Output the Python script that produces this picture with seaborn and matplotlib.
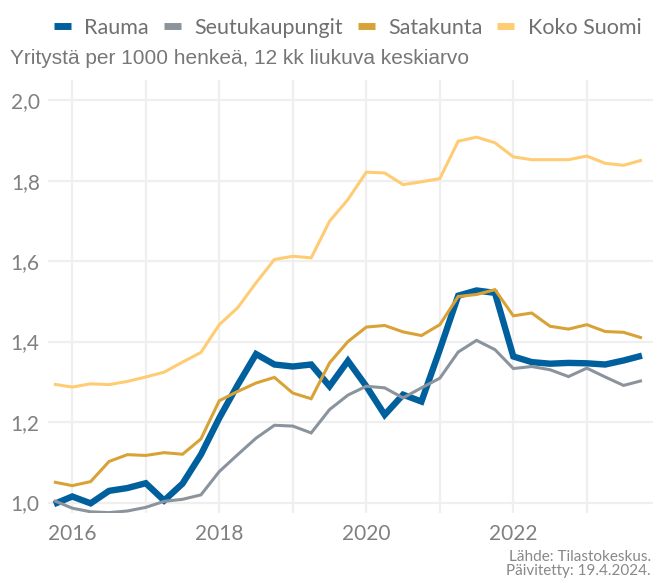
import numpy as np
import pandas as pd
import matplotlib
matplotlib.use("Agg")
import matplotlib.pyplot as plt
import seaborn as sns
from matplotlib.lines import Line2D

# ---- data (quarterly, 12-month moving average) ----
quarters = [2015.75 + 0.25 * i for i in range(33)]
rauma = [0.996, 1.015, 0.998, 1.029, 1.036, 1.048, 1.005, 1.047, 1.119, 1.210,
         1.292, 1.369, 1.343, 1.338, 1.343, 1.289, 1.352, 1.289, 1.218, 1.268,
         1.251, 1.380, 1.514, 1.527, 1.521, 1.363, 1.349, 1.345, 1.347, 1.346,
         1.343, 1.353, 1.365]
seutukaupungit = [1.005, 0.986, 0.977, 0.975, 0.979, 0.988, 1.003, 1.008, 1.019, 1.077,
                  1.119, 1.160, 1.192, 1.190, 1.173, 1.231, 1.267, 1.289, 1.285, 1.260,
                  1.285, 1.309, 1.374, 1.403, 1.380, 1.333, 1.338, 1.330, 1.313, 1.334,
                  1.312, 1.291, 1.303]
satakunta = [1.051, 1.042, 1.052, 1.102, 1.119, 1.117, 1.124, 1.120, 1.158, 1.253,
             1.276, 1.297, 1.311, 1.272, 1.258, 1.347, 1.400, 1.436, 1.440, 1.424,
             1.415, 1.442, 1.512, 1.517, 1.529, 1.464, 1.471, 1.438, 1.431, 1.442,
             1.425, 1.423, 1.409]
koko_suomi = [1.294, 1.287, 1.295, 1.293, 1.301, 1.312, 1.324, 1.349, 1.373, 1.442,
              1.484, 1.546, 1.604, 1.612, 1.608, 1.699, 1.753, 1.821, 1.819, 1.790,
              1.797, 1.805, 1.898, 1.908, 1.894, 1.859, 1.852, 1.852, 1.852, 1.861,
              1.843, 1.838, 1.851]

series_names = ["Rauma", "Seutukaupungit", "Satakunta", "Koko Suomi"]
series_values = [rauma, seutukaupungit, satakunta, koko_suomi]
y_ticks = [1.0, 1.2, 1.4, 1.6, 1.8, 2.0]
y_tick_labels = ["1,0", "1,2", "1,4", "1,6", "1,8", "2,0"]
x_years = list(range(2016, 2024))
x_tick_labels = ["2016", "", "2018", "", "2020", "", "2022", ""]
title = "Yritystä per 1000 henkeä, 12 kk liukuva keskiarvo"
source = "Lähde: Tilastokeskus.\nPäivitetty: 19.4.2024."

colors = {"Rauma": "#00609e", "Seutukaupungit": "#8b949c",
          "Satakunta": "#d9a236", "Koko Suomi": "#ffcc73"}
widths = {"Rauma": 4.6, "Seutukaupungit": 2.2, "Satakunta": 2.2, "Koko Suomi": 2.2}

df = pd.DataFrame({
    "t": quarters * len(series_names),
    "value": [v for vals in series_values for v in vals],
    "series": [n for n, vals in zip(series_names, series_values) for _ in vals],
})

sns.set_theme(style="white")
plt.rcParams["font.family"] = ["Lato", "DejaVu Sans"]

fig = plt.figure(figsize=(6.53, 5.81), dpi=100)
ax = fig.add_axes([48 / 653, 1 - 513 / 581, 605 / 653, (513 - 80) / 581])

sns.lineplot(data=df, x="t", y="value", hue="series", size="series",
             hue_order=series_names, size_order=series_names,
             palette=colors, sizes=widths, legend=False, ax=ax)
for ln in ax.get_lines():
    ln.set_solid_joinstyle("miter")
    ln.set_solid_capstyle("butt")

ax.set_xlim(2015.67, 2023.90)
ax.set_ylim(0.974, 2.05)
ax.set_xticks(x_years)
ax.set_xticklabels(x_tick_labels)
ax.set_yticks(y_ticks)
ax.set_yticklabels(y_tick_labels)
ax.set_xlabel("")
ax.set_ylabel("")
ax.grid(True, color="#efefef", linewidth=1.6)
ax.set_axisbelow(True)
for s in ax.spines.values():
    s.set_visible(False)
ax.tick_params(axis="both", length=0, labelsize=15, labelcolor="#808080")
ax.tick_params(axis="x", pad=8)
ax.tick_params(axis="y", pad=6)

handles = [Line2D([0], [0], color=colors[n], lw=5.0, solid_capstyle="butt")
           for n in series_names]
fig.legend(handles, series_names, loc="upper right", bbox_to_anchor=(1.012, 1.003),
           ncol=4, frameon=False, prop={"size": 15.5},
           handlelength=0.8, handletextpad=0.62, columnspacing=0.68,
           labelcolor="#707070")

fig.text(10 / 653, 1 - 58 / 581, title, fontsize=15.0, color="#777777",
         family=["Liberation Sans", "DejaVu Sans"], va="center", ha="left")
fig.text(651 / 653, 1 - 564 / 581, source, fontsize=11.0, color="#888888",
         va="center", ha="right", linespacing=0.95)

fig.savefig("out.png", dpi=100)
